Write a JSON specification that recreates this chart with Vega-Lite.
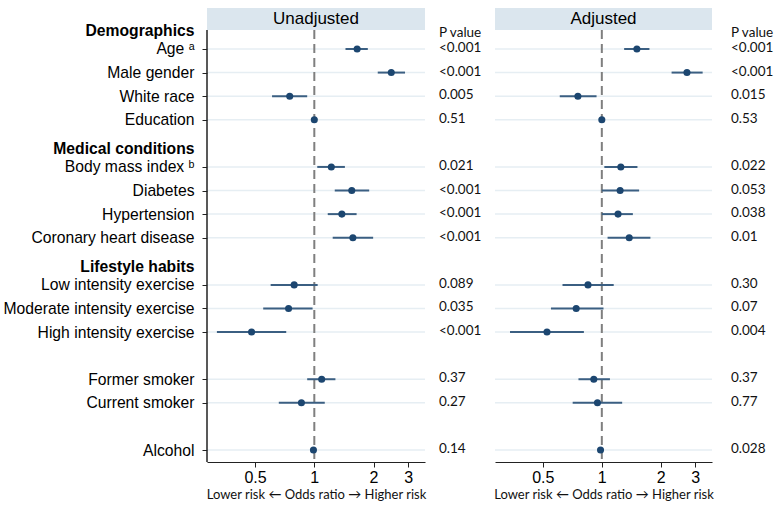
{
  "$schema": "https://vega.github.io/schema/vega-lite/v6.json",
  "padding": {"left": 3, "top": 8, "right": 0, "bottom": 0},
  "background": "white",
  "datasets": {
    "rows": [
      {"label": "Age ᵃ", "or_u": 1.65, "lo_u": 1.44, "hi_u": 1.87, "p_u": "<0.001", "or_a": 1.51, "lo_a": 1.30, "hi_a": 1.75, "p_a": "<0.001"},
      {"label": "Male gender", "or_u": 2.46, "lo_u": 2.10, "hi_u": 2.89, "p_u": "<0.001", "or_a": 2.72, "lo_a": 2.27, "hi_a": 3.27, "p_a": "<0.001"},
      {"label": "White race", "or_u": 0.75, "lo_u": 0.61, "hi_u": 0.92, "p_u": "0.005", "or_a": 0.755, "lo_a": 0.61, "hi_a": 0.94, "p_a": "0.015"},
      {"label": "Education", "or_u": 1.0, "lo_u": 0.99, "hi_u": 1.01, "p_u": "0.51", "or_a": 1.0, "lo_a": 0.99, "hi_a": 1.01, "p_a": "0.53"},
      {"label": "Body mass index ᵇ", "or_u": 1.22, "lo_u": 1.035, "hi_u": 1.43, "p_u": "0.021", "or_a": 1.25, "lo_a": 1.03, "hi_a": 1.52, "p_a": "0.022"},
      {"label": "Diabetes", "or_u": 1.55, "lo_u": 1.27, "hi_u": 1.90, "p_u": "<0.001", "or_a": 1.24, "lo_a": 1.0, "hi_a": 1.55, "p_a": "0.053"},
      {"label": "Hypertension", "or_u": 1.38, "lo_u": 1.17, "hi_u": 1.64, "p_u": "<0.001", "or_a": 1.21, "lo_a": 1.0, "hi_a": 1.44, "p_a": "0.038"},
      {"label": "Coronary heart disease", "or_u": 1.57, "lo_u": 1.24, "hi_u": 1.99, "p_u": "<0.001", "or_a": 1.38, "lo_a": 1.07, "hi_a": 1.77, "p_a": "0.01"},
      {"label": "Low intensity exercise", "or_u": 0.79, "lo_u": 0.60, "hi_u": 1.04, "p_u": "0.089", "or_a": 0.85, "lo_a": 0.63, "hi_a": 1.15, "p_a": "0.30"},
      {"label": "Moderate intensity exercise", "or_u": 0.74, "lo_u": 0.55, "hi_u": 0.98, "p_u": "0.035", "or_a": 0.74, "lo_a": 0.55, "hi_a": 1.02, "p_a": "0.07"},
      {"label": "High intensity exercise", "or_u": 0.48, "lo_u": 0.32, "hi_u": 0.72, "p_u": "<0.001", "or_a": 0.525, "lo_a": 0.34, "hi_a": 0.81, "p_a": "0.004"},
      {"label": "Former smoker", "or_u": 1.09, "lo_u": 0.92, "hi_u": 1.28, "p_u": "0.37", "or_a": 0.91, "lo_a": 0.76, "hi_a": 1.10, "p_a": "0.37"},
      {"label": "Current smoker", "or_u": 0.86, "lo_u": 0.66, "hi_u": 1.13, "p_u": "0.27", "or_a": 0.95, "lo_a": 0.71, "hi_a": 1.27, "p_a": "0.77"},
      {"label": "Alcohol", "or_u": 0.99, "lo_u": 0.985, "hi_u": 0.995, "p_u": "0.14", "or_a": 0.985, "lo_a": 0.98, "hi_a": 0.99, "p_a": "0.028"}
    ]
  },
  "config": {
    "view": {"stroke": null},
    "axis": {"grid": false}
  },
  "columns": 4,
  "spacing": {"row": 0, "column": 0},
  "bounds": "flush",
  "align": "each",
  "concat": [
    {
      "width": 218, "height": 22,
      "view": {"fill": "#dbe6ee", "stroke": null},
      "data": {"values": [{"model": "Unadjusted"}]},
      "mark": {"type": "text", "font": "Liberation Sans", "fontSize": 17, "color": "#000"},
      "encoding": {"text": {"field": "model"}}
    },
    {
      "width": 70, "height": 22,
      "data": {"values": []},
      "mark": "text",
      "encoding": {}
    },
    {
      "width": 217, "height": 22,
      "view": {"fill": "#dbe6ee", "stroke": null},
      "data": {"values": [{"model": "Adjusted"}]},
      "mark": {"type": "text", "font": "Liberation Sans", "fontSize": 17, "color": "#000"},
      "encoding": {"text": {"field": "model"}}
    },
    {
      "width": 62, "height": 22,
      "data": {"values": []},
      "mark": "text",
      "encoding": {}
    },
    {
      "width": 218, "height": 432,
      "data": {"name": "rows"},
      "layer": [
        {
          "mark": {"type": "rule", "color": "#e6eef3", "strokeWidth": 1.5},
          "encoding": {
            "y": {"field": "label", "type": "nominal",
              "scale": {"type": "point", "domain": ["Demographics", "Age ᵃ", "Male gender", "White race", "Education", "Medical conditions", "Body mass index ᵇ", "Diabetes", "Hypertension", "Coronary heart disease", "Lifestyle habits", "Low intensity exercise", "Moderate intensity exercise", "High intensity exercise", "gap1", "Former smoker", "Current smoker", "gap2", "Alcohol"], "range": [-4.6, 420], "padding": 0},
              "axis": {
                "title": null, "domain": false, "grid": false,
                "tickSize": 5, "tickColor": "#222", "tickWidth": 1,
                "tickOpacity": {"condition": {"test": "indexof(['Demographics','Medical conditions','Lifestyle habits','gap1','gap2'], datum.value) >= 0", "value": 0}, "value": 1},
                "labelFont": "Liberation Sans", "labelFontSize": 15.7, "labelColor": "#000", "labelPadding": 8, "labelLimit": 300,
                "labelExpr": "indexof(datum.value, 'gap') == 0 ? '' : datum.value",
                "labelFontWeight": {"condition": {"test": "indexof(['Demographics','Medical conditions','Lifestyle habits'], datum.value) >= 0", "value": "bold"}, "value": "normal"},
                "labelOffset": {"condition": {"test": "indexof(['Demographics','Medical conditions','Lifestyle habits'], datum.value) >= 0", "value": 5}, "value": 0}
              }
            }
          }
        },
        {
          "data": {"values": [{"edge": 0.285}]},
          "mark": {"type": "rule", "color": "#222", "strokeWidth": 1.5},
          "encoding": {
            "x": {"field": "edge", "type": "quantitative",
              "scale": {"type": "log", "domain": [0.285, 3.65], "nice": false},
              "axis": {"values": [0.5, 1, 2, 3], "format": "~g", "title": "Lower risk ← Odds ratio → Higher risk", "grid": false, "domainColor": "#222", "domainWidth": 1.2, "tickColor": "#222", "tickSize": 5, "labelFont": "Liberation Sans", "labelFontSize": 16, "labelColor": "#000", "labelPadding": 2, "titleFont": "Lato", "titleFontSize": 13, "titleFontWeight": "normal", "titleColor": "#111", "titlePadding": 3}
            }
          }
        },
        {
          "data": {"values": [{"ref": 1}]},
          "mark": {"type": "rule", "color": "#7f7f7f", "strokeWidth": 2, "strokeDash": [9, 5]},
          "encoding": {
            "x": {"field": "ref", "type": "quantitative",
              "scale": {"type": "log", "domain": [0.285, 3.65], "nice": false},
              "axis": {"values": [0.5, 1, 2, 3], "format": "~g", "title": "Lower risk ← Odds ratio → Higher risk", "grid": false, "domainColor": "#222", "domainWidth": 1.2, "tickColor": "#222", "tickSize": 5, "labelFont": "Liberation Sans", "labelFontSize": 16, "labelColor": "#000", "labelPadding": 2, "titleFont": "Lato", "titleFontSize": 13, "titleFontWeight": "normal", "titleColor": "#111", "titlePadding": 3}
            }
          }
        },
        {
          "mark": {"type": "rule", "color": "#3b5f82", "strokeWidth": 2},
          "encoding": {
            "y": {"field": "label", "type": "nominal"},
            "x": {"field": "lo_u", "type": "quantitative",
              "scale": {"type": "log", "domain": [0.285, 3.65], "nice": false},
              "axis": {"values": [0.5, 1, 2, 3], "format": "~g", "title": "Lower risk ← Odds ratio → Higher risk", "grid": false, "domainColor": "#222", "domainWidth": 1.2, "tickColor": "#222", "tickSize": 5, "labelFont": "Liberation Sans", "labelFontSize": 16, "labelColor": "#000", "labelPadding": 2, "titleFont": "Lato", "titleFontSize": 13, "titleFontWeight": "normal", "titleColor": "#111", "titlePadding": 3}
            },
            "x2": {"field": "hi_u"}
          }
        },
        {
          "mark": {"type": "circle", "color": "#1c4670", "opacity": 1, "size": 50},
          "encoding": {
            "y": {"field": "label", "type": "nominal"},
            "x": {"field": "or_u", "type": "quantitative",
              "scale": {"type": "log", "domain": [0.285, 3.65], "nice": false},
              "axis": {"values": [0.5, 1, 2, 3], "format": "~g", "title": "Lower risk ← Odds ratio → Higher risk", "grid": false, "domainColor": "#222", "domainWidth": 1.2, "tickColor": "#222", "tickSize": 5, "labelFont": "Liberation Sans", "labelFontSize": 16, "labelColor": "#000", "labelPadding": 2, "titleFont": "Lato", "titleFontSize": 13, "titleFontWeight": "normal", "titleColor": "#111", "titlePadding": 3}
            }
          }
        }
      ]
    },
    {
      "width": 70, "height": 432,
      "data": {"name": "rows"},
      "layer": [
        {
          "mark": {"type": "text", "align": "left", "dx": -21, "dy": -1, "font": "Lato", "fontSize": 13.5, "color": "#111"},
          "encoding": {
            "y": {"field": "label", "type": "nominal",
              "scale": {"type": "point", "domain": ["Demographics", "Age ᵃ", "Male gender", "White race", "Education", "Medical conditions", "Body mass index ᵇ", "Diabetes", "Hypertension", "Coronary heart disease", "Lifestyle habits", "Low intensity exercise", "Moderate intensity exercise", "High intensity exercise", "gap1", "Former smoker", "Current smoker", "gap2", "Alcohol"], "range": [-4.6, 420], "padding": 0},
              "axis": null},
            "text": {"field": "p_u"}
          }
        },
        {
          "data": {"values": [{"h": "P value", "row": "Demographics"}]},
          "mark": {"type": "text", "align": "left", "dx": -21, "dy": 8, "font": "Lato", "fontSize": 13.5, "color": "#111"},
          "encoding": {
            "y": {"field": "row", "type": "nominal"},
            "text": {"field": "h"}
          }
        }
      ]
    },
    {
      "width": 217, "height": 432,
      "data": {"name": "rows"},
      "layer": [
        {
          "mark": {"type": "rule", "color": "#e6eef3", "strokeWidth": 1.5},
          "encoding": {
            "y": {"field": "label", "type": "nominal",
              "scale": {"type": "point", "domain": ["Demographics", "Age ᵃ", "Male gender", "White race", "Education", "Medical conditions", "Body mass index ᵇ", "Diabetes", "Hypertension", "Coronary heart disease", "Lifestyle habits", "Low intensity exercise", "Moderate intensity exercise", "High intensity exercise", "gap1", "Former smoker", "Current smoker", "gap2", "Alcohol"], "range": [-4.6, 420], "padding": 0},
              "axis": null}
          }
        },
        {
          "data": {"values": [{"ref": 1}]},
          "mark": {"type": "rule", "color": "#7f7f7f", "strokeWidth": 2, "strokeDash": [9, 5]},
          "encoding": {
            "x": {"field": "ref", "type": "quantitative",
              "scale": {"type": "log", "domain": [0.285, 3.65], "nice": false},
              "axis": {"values": [0.5, 1, 2, 3], "format": "~g", "title": "Lower risk ← Odds ratio → Higher risk", "grid": false, "domainColor": "#222", "domainWidth": 1.2, "tickColor": "#222", "tickSize": 5, "labelFont": "Liberation Sans", "labelFontSize": 16, "labelColor": "#000", "labelPadding": 2, "titleFont": "Lato", "titleFontSize": 13, "titleFontWeight": "normal", "titleColor": "#111", "titlePadding": 3}
            }
          }
        },
        {
          "mark": {"type": "rule", "color": "#3b5f82", "strokeWidth": 2},
          "encoding": {
            "y": {"field": "label", "type": "nominal"},
            "x": {"field": "lo_a", "type": "quantitative",
              "scale": {"type": "log", "domain": [0.285, 3.65], "nice": false},
              "axis": {"values": [0.5, 1, 2, 3], "format": "~g", "title": "Lower risk ← Odds ratio → Higher risk", "grid": false, "domainColor": "#222", "domainWidth": 1.2, "tickColor": "#222", "tickSize": 5, "labelFont": "Liberation Sans", "labelFontSize": 16, "labelColor": "#000", "labelPadding": 2, "titleFont": "Lato", "titleFontSize": 13, "titleFontWeight": "normal", "titleColor": "#111", "titlePadding": 3}
            },
            "x2": {"field": "hi_a"}
          }
        },
        {
          "mark": {"type": "circle", "color": "#1c4670", "opacity": 1, "size": 50},
          "encoding": {
            "y": {"field": "label", "type": "nominal"},
            "x": {"field": "or_a", "type": "quantitative",
              "scale": {"type": "log", "domain": [0.285, 3.65], "nice": false},
              "axis": {"values": [0.5, 1, 2, 3], "format": "~g", "title": "Lower risk ← Odds ratio → Higher risk", "grid": false, "domainColor": "#222", "domainWidth": 1.2, "tickColor": "#222", "tickSize": 5, "labelFont": "Liberation Sans", "labelFontSize": 16, "labelColor": "#000", "labelPadding": 2, "titleFont": "Lato", "titleFontSize": 13, "titleFontWeight": "normal", "titleColor": "#111", "titlePadding": 3}
            }
          }
        }
      ]
    },
    {
      "width": 62, "height": 432,
      "data": {"name": "rows"},
      "layer": [
        {
          "mark": {"type": "text", "align": "left", "dx": -12, "dy": -1, "font": "Lato", "fontSize": 13.5, "color": "#111"},
          "encoding": {
            "y": {"field": "label", "type": "nominal",
              "scale": {"type": "point", "domain": ["Demographics", "Age ᵃ", "Male gender", "White race", "Education", "Medical conditions", "Body mass index ᵇ", "Diabetes", "Hypertension", "Coronary heart disease", "Lifestyle habits", "Low intensity exercise", "Moderate intensity exercise", "High intensity exercise", "gap1", "Former smoker", "Current smoker", "gap2", "Alcohol"], "range": [-4.6, 420], "padding": 0},
              "axis": null},
            "text": {"field": "p_a"}
          }
        },
        {
          "data": {"values": [{"h": "P value", "row": "Demographics"}]},
          "mark": {"type": "text", "align": "left", "dx": -12, "dy": 8, "font": "Lato", "fontSize": 13.5, "color": "#111"},
          "encoding": {
            "y": {"field": "row", "type": "nominal"},
            "text": {"field": "h"}
          }
        }
      ]
    }
  ]
}
